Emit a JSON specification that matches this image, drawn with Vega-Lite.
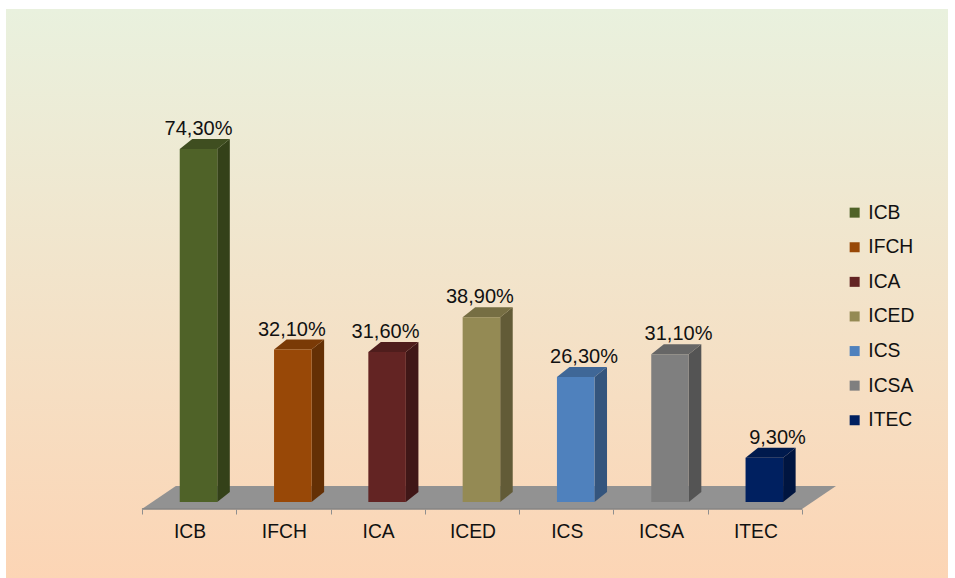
{
"$schema":"https://vega.github.io/schema/vega-lite/v6.json",
"width":955,"height":578,"padding":0,
"autosize":{"type":"fit","contains":"padding"},
"background":"#ffffff",
"config":{"view":{"stroke":null},"font":"Liberation Sans","text":{"font":"Liberation Sans"}},
"data":{"values":[
{"unit":"ICB","value":74.3},
{"unit":"IFCH","value":32.1},
{"unit":"ICA","value":31.6},
{"unit":"ICED","value":38.9},
{"unit":"ICS","value":26.3},
{"unit":"ICSA","value":31.1},
{"unit":"ITEC","value":9.3}
]},
"transform":[
{"window":[{"op":"row_number","as":"n"}]},
{"calculate":"datum.n-1","as":"k"}
],
"layer":[
{"data":{"values":[{"name":"panel"}]},
 "mark":{"type":"rect","fill":{"gradient":"linear","x1":0,"y1":0,"x2":0,"y2":1,"stops":[{"offset":0,"color":"#e9f1de"},{"offset":1,"color":"#fcd5b5"}]}},
 "encoding":{"x":{"value":6},"x2":{"value":948},"y":{"value":9},"y2":{"value":578}}},
{"data":{"values":[{"name":"floor"}]},
 "transform":[{"calculate":"[0,1]","as":"t"},{"flatten":["t"]},
  {"calculate":"-1.47+datum.t*4.84","as":"fy"},
  {"calculate":"-0.6+datum.t*0.36","as":"fx"},
  {"calculate":"6.4+datum.t*0.36","as":"fx2"}],
 "mark":{"type":"area","orient":"horizontal","color":"#929292"},
 "encoding":{
  "y":{"field":"fy","type":"quantitative","scale":{"domain":[-16,105.68],"nice":false,"zero":false},"axis":null},
  "x":{"field":"fx","type":"quantitative","scale":{"domain":[-2.105,8.022],"nice":false,"zero":false},
   "axis":{"orient":"bottom","offset":-69,"zindex":1,"values":[-0.6,0.4,1.4,2.4,3.4,4.4,5.4,6.4],"labels":false,"domain":false,"grid":false,"title":null,"tickColor":"#8f8f8f","tickSize":5,"tickWidth":1}},
  "x2":{"field":"fx2"}}},
{"data":{"values":[{"name":"edge","from":-0.6,"to":6.4,"at":-1.47}]},
 "mark":{"type":"rule","color":"#858585","strokeWidth":1.5},
 "encoding":{
  "x":{"field":"from","type":"quantitative",
   "axis":{"orient":"bottom","offset":-69,"zindex":1,"values":[-0.095,0.905,1.905,2.905,3.905,4.905,5.905],
    "labelExpr":"['ICB','IFCH','ICA','ICED','ICS','ICSA','ITEC'][round(datum.value+0.095)]",
    "labelFontSize":19.3,"labelColor":"#111111","labelFont":"Liberation Sans","labelPadding":13,"labelOverlap":false,"labelFlush":false,"ticks":false,"domain":false,"grid":false,"title":null}},
  "x2":{"field":"to"},
  "y":{"field":"at","type":"quantitative","axis":null}}},
{"transform":[{"calculate":"[0,1]","as":"t"},{"flatten":["t"]},
  {"calculate":"datum.k+0.199+datum.t*0.133","as":"sx"},
  {"calculate":"datum.value+datum.t*2.1","as":"sy"},
  {"calculate":"datum.t*2.1","as":"sy2"}],
 "mark":{"type":"area"},
 "encoding":{
  "x":{"field":"sx","type":"quantitative","axis":null},
  "y":{"field":"sy","type":"quantitative","axis":null},
  "y2":{"field":"sy2"},
  "color":{"field":"unit","type":"nominal","legend":null,"scale":{"domain":["ICB","IFCH","ICA","ICED","ICS","ICSA","ITEC"],"range":["#344119","#643005","#401717","#625B37","#34557D","#545454","#001540"]}}}},
{"transform":[{"calculate":"[0,1]","as":"t"},{"flatten":["t"]},
  {"calculate":"datum.k-0.199+datum.t*0.133","as":"tx"},
  {"calculate":"datum.k+0.199+datum.t*0.133","as":"tx2"},
  {"calculate":"datum.value+datum.t*2.1","as":"ty"}],
 "mark":{"type":"area","orient":"horizontal"},
 "encoding":{
  "y":{"field":"ty","type":"quantitative","axis":null},
  "x":{"field":"tx","type":"quantitative","axis":null},
  "x2":{"field":"tx2"},
  "color":{"field":"unit","type":"nominal","legend":null,"scale":{"domain":["ICB","IFCH","ICA","ICED","ICS","ICSA","ITEC"],"range":["#3F4E20","#7A3A06","#4F1D1C","#766E43","#3F6797","#666666","#001A4D"]}}}},
{"transform":[
  {"calculate":"datum.k-0.199","as":"bx"},
  {"calculate":"datum.k+0.199","as":"bx2"},
  {"calculate":"0","as":"base"}],
 "mark":{"type":"rect"},
 "encoding":{
  "x":{"field":"bx","type":"quantitative","axis":null},
  "x2":{"field":"bx2"},
  "y":{"field":"value","type":"quantitative","axis":null},
  "y2":{"field":"base"},
  "color":{"field":"unit","type":"nominal",
   "scale":{"domain":["ICB","IFCH","ICA","ICED","ICS","ICSA","ITEC"],"range":["#4F6228","#984807","#632423","#948A54","#4F81BD","#7F7F7F","#002060"]},
   "legend":{"orient":"none","legendX":845,"legendY":203,"title":null,"symbolType":"square","symbolSize":100,"symbolStrokeWidth":0,"labelFontSize":19.3,"labelColor":"#111111","labelFont":"Liberation Sans","rowPadding":14.6,"labelOffset":4,"symbolOffset":0}}}},
{"transform":[
  {"calculate":"datum.value+2.1","as":"ly"},
  {"calculate":"datum.k+[0,-0.01,-0.017,-0.016,0.088,0.09,0.14][datum.k]","as":"lx"},
  {"calculate":"replace(format(datum.value,'.2f'),'.',',')+'%'","as":"label"}],
 "mark":{"type":"text","baseline":"bottom","align":"center","fontSize":20,"color":"#111111","dy":0,"font":"Liberation Sans"},
 "encoding":{
  "x":{"field":"lx","type":"quantitative","axis":null},
  "y":{"field":"ly","type":"quantitative","axis":null},
  "text":{"field":"label"}}}
],
"resolve":{"scale":{"color":"independent"},"axis":{"x":"independent"}}
}
